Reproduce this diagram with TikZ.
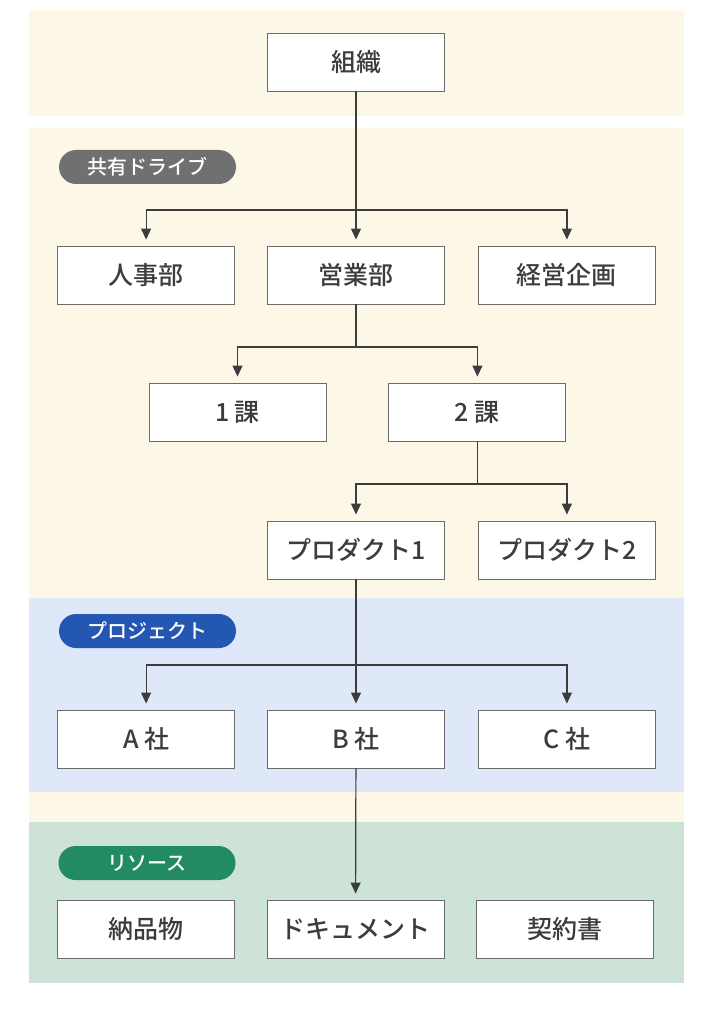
\documentclass[tikz,border=0pt]{standalone}
\usepackage{fontspec}
\setmainfont{Noto Sans CJK JP}[BoldFont={Noto Sans CJK JP Medium}]
\usepackage{xcolor}
\usepackage{tikz}
\usetikzlibrary{positioning,arrows.meta}

\definecolor{cream}{HTML}{FDF7E8}
\definecolor{skyband}{HTML}{DEE8F9}
\definecolor{mintband}{HTML}{CDE3D8}
\definecolor{pillgray}{HTML}{707070}
\definecolor{pillblue}{HTML}{2457B2}
\definecolor{pillgreen}{HTML}{228B62}
\definecolor{ink}{HTML}{3C3C3C}
\definecolor{boxline}{HTML}{6B6B6B}

\begin{document}
\begin{tikzpicture}[
    x=1pt, y=-1pt,
    node distance=32pt,
    box/.style={rectangle, draw=boxline, line width=0.9pt, fill=white, text=ink, minimum width=177pt, minimum height=58pt, inner sep=0pt, font=\fontsize{25}{28}\selectfont\bfseries},
    pill/.style={rectangle, rounded corners=17pt, minimum width=177pt, minimum height=34pt, inner sep=0pt, text=white, font=\fontsize{20}{22}\selectfont\bfseries},
    link/.style={draw=ink, line width=1.2pt},
    conn/.style={link, -{Triangle[width=10pt,length=11pt]}, shorten >=6pt}
]
\useasboundingbox (0,0) rectangle (714,1024);

% Bands
\fill[cream] (29,10) rectangle (684,116);
\fill[cream] (29,128) rectangle (684,822);
\fill[skyband] (29,598) rectangle (684,792);
\fill[mintband] (29,822) rectangle (684,983);

% Labels
\node[pill, fill=pillgray] (drive) at (147.5,167) {共有ドライブ};
\node[pill, fill=pillblue] (project) at (147.5,631) {プロジェクト};
\node[pill, fill=pillgreen] (resource) at (147,863) {リソース};

% Nodes
\node[box] (soshiki) at (356,62) {組織};

\node[box] (eigyo) at (356,275) {営業部};
\node[box] (jinji) [left=of eigyo] {人事部};
\node[box] (keiei) [right=33pt of eigyo] {経営企画};

\node[box] (ka1) at (237.5,412) {1 課};
\node[box] (ka2) [right=62pt of ka1] {2 課};

\node[box] (prod1) at (356,550) {プロダクト1};
\node[box] (prod2) [right=33pt of prod1] {プロダクト2};

\node[box] (companyB) at (356,739) {B 社};
\node[box] (companyA) [left=of companyB] {A 社};
\node[box] (companyC) [right=33pt of companyB] {C 社};

\node[box] (docs) at (355.5,929) {ドキュメント};
\node[box] (deliv) [left=of docs] {納品物};
\node[box] (contract) [right=of docs] {契約書};

% Connectors
\draw[link] (soshiki) -- (soshiki |- 0,210) coordinate (bus1);
\draw[conn] (bus1) -| (jinji);
\draw[conn] (bus1) -- (eigyo);
\draw[conn] (bus1) -| (keiei);

\draw[link] (eigyo) -- (eigyo |- 0,347) coordinate (bus2);
\draw[conn] (bus2) -| (ka1);
\draw[conn] (bus2) -| (ka2);

\draw[link] (ka2) -- (ka2 |- 0,484) coordinate (bus3);
\draw[conn] (bus3) -| (prod1);
\draw[conn] (bus3) -| (prod2);

\draw[link] (prod1) -- (prod1 |- 0,665) coordinate (bus4);
\draw[conn] (bus4) -| (companyA);
\draw[conn] (bus4) -- (companyB);
\draw[conn] (bus4) -| (companyC);

\draw[conn] (companyB) -- (docs);

\end{tikzpicture}
\end{document}
